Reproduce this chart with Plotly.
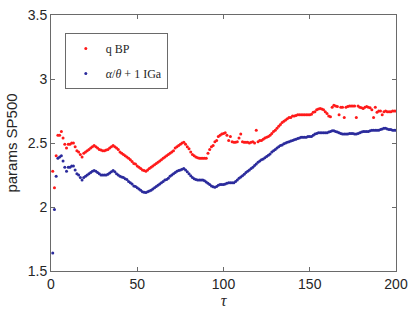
import plotly.graph_objects as go

tau = list(range(1, 201))

q_bp = [
    2.28, 2.15, 2.40, 2.56, 2.56, 2.59, 2.54, 2.49, 2.46, 2.49,
    2.49, 2.50, 2.50, 2.47, 2.44, 2.43, 2.41, 2.39, 2.42, 2.43,
    2.44, 2.45, 2.46, 2.47, 2.48, 2.47, 2.46, 2.45, 2.445, 2.44,
    2.44, 2.445, 2.45, 2.46, 2.47, 2.48, 2.47, 2.46, 2.45, 2.43,
    2.42, 2.41, 2.40, 2.39, 2.38, 2.37, 2.355, 2.34, 2.335, 2.32,
    2.31, 2.30, 2.29, 2.285, 2.28, 2.29, 2.30, 2.31, 2.32, 2.33,
    2.34, 2.35, 2.36, 2.37, 2.38, 2.39, 2.40, 2.41, 2.42, 2.43,
    2.44, 2.46, 2.47, 2.48, 2.49, 2.50, 2.505, 2.49, 2.47, 2.455,
    2.43, 2.41, 2.40, 2.39, 2.385, 2.38, 2.38, 2.38, 2.38, 2.38,
    2.42, 2.45, 2.47, 2.48, 2.51, 2.52, 2.55, 2.56, 2.57, 2.575,
    2.58, 2.56, 2.52, 2.55, 2.51, 2.505, 2.505, 2.51, 2.54, 2.57,
    2.51, 2.505, 2.505, 2.505, 2.50, 2.505, 2.51, 2.50, 2.60, 2.51,
    2.52, 2.52, 2.53, 2.54, 2.545, 2.55, 2.56, 2.575, 2.59, 2.60,
    2.615, 2.63, 2.645, 2.66, 2.67, 2.68, 2.69, 2.70, 2.70, 2.71,
    2.71, 2.715, 2.72, 2.72, 2.72, 2.72, 2.72, 2.72, 2.72, 2.72,
    2.725, 2.74, 2.745, 2.76, 2.765, 2.77, 2.765, 2.76, 2.745, 2.73,
    2.71, 2.705, 2.78, 2.795, 2.79, 2.785, 2.72, 2.78, 2.78, 2.70,
    2.78, 2.785, 2.79, 2.79, 2.79, 2.79, 2.70, 2.79, 2.78, 2.775,
    2.77, 2.78, 2.785, 2.78, 2.775, 2.76, 2.70, 2.78, 2.74, 2.75,
    2.75, 2.72, 2.745, 2.75, 2.745, 2.745, 2.745, 2.75, 2.75, 2.75,
]

iga = [
    1.64, 1.98, 2.24, 2.38, 2.39, 2.40, 2.36, 2.31, 2.28, 2.31,
    2.31, 2.32, 2.32, 2.29, 2.26, 2.25, 2.23, 2.21, 2.23, 2.24,
    2.25, 2.26, 2.27, 2.28, 2.285, 2.28, 2.27, 2.26, 2.25, 2.25,
    2.25, 2.25, 2.255, 2.265, 2.275, 2.285, 2.275, 2.26, 2.25, 2.24,
    2.235, 2.23, 2.22, 2.215, 2.20, 2.19, 2.18, 2.165, 2.16, 2.15,
    2.14, 2.13, 2.12, 2.115, 2.113, 2.12, 2.125, 2.13, 2.14, 2.15,
    2.16, 2.17, 2.18, 2.19, 2.20, 2.21, 2.215, 2.225, 2.24, 2.25,
    2.26, 2.27, 2.28, 2.285, 2.29, 2.295, 2.30, 2.29, 2.275, 2.26,
    2.245, 2.23, 2.22, 2.215, 2.21, 2.21, 2.21, 2.21, 2.205, 2.195,
    2.185, 2.175, 2.165, 2.158, 2.155, 2.16, 2.17, 2.175, 2.175, 2.175,
    2.18, 2.185, 2.19, 2.19, 2.19, 2.19, 2.20, 2.21, 2.225, 2.235,
    2.245, 2.255, 2.27, 2.28, 2.29, 2.30, 2.31, 2.325, 2.335, 2.35,
    2.36, 2.37, 2.375, 2.385, 2.395, 2.405, 2.415, 2.43, 2.44, 2.45,
    2.46, 2.47, 2.48, 2.485, 2.495, 2.50, 2.505, 2.51, 2.515, 2.52,
    2.525, 2.53, 2.535, 2.54, 2.545, 2.545, 2.545, 2.545, 2.55, 2.55,
    2.55, 2.56, 2.57, 2.575, 2.58, 2.58, 2.58, 2.58, 2.58, 2.58,
    2.585, 2.59, 2.595, 2.595, 2.59, 2.585, 2.58, 2.575, 2.57, 2.57,
    2.57, 2.57, 2.575, 2.575, 2.575, 2.57, 2.57, 2.575, 2.58, 2.585,
    2.59, 2.59, 2.59, 2.59, 2.595, 2.60, 2.60, 2.60, 2.60, 2.60,
    2.605, 2.61, 2.615, 2.615, 2.61, 2.605, 2.605, 2.60, 2.60, 2.60,
]

x_ticks = [0, 50, 100, 150, 200]
y_ticks = [1.5, 2, 2.5, 3, 3.5]
y_tick_labels = ["1.5", "2", "2.5", "3", "3.5"]

fig = go.Figure()
fig.add_trace(go.Scatter(
    x=tau, y=q_bp, mode="markers", name="q BP", legendgroup="a",
    marker=dict(color="#ff1a1a", size=3),
))
fig.add_trace(go.Scatter(
    x=tau, y=iga, mode="markers", name="<i>α</i>/<i>θ</i> + 1 IGa", legendgroup="b",
    marker=dict(color="#2b2b9c", size=3),
))

axis_common = dict(
    showgrid=False, zeroline=False, showline=True, linecolor="#6a6a6a",
    linewidth=1, mirror="ticks", ticks="inside", ticklen=4,
    tickcolor="#6a6a6a", ticklabeloverflow="allow",
    tickfont=dict(family="Liberation Sans, Arial", size=14, color="#262626"),
)

fig.update_xaxes(range=[-1e-6, 200 + 1e-6], tickvals=x_ticks, **axis_common,
                 title=dict(text="<i>τ</i>", font=dict(family="Liberation Serif, serif", size=16, color="#262626"), standoff=4))
fig.update_yaxes(range=[1.5 - 1e-6, 3.5 + 1e-6], tickvals=y_ticks, ticktext=y_tick_labels, **axis_common,
                 title=dict(text="params SP500", font=dict(family="Liberation Sans, Arial", size=15, color="#262626"), standoff=6))

fig.update_layout(
    width=415, height=317,
    margin=dict(l=51, r=14, t=7, b=46),
    plot_bgcolor="white", paper_bgcolor="white",
    showlegend=True,
    legend=dict(
        x=0.04, y=0.93, xanchor="left", yanchor="top",
        bgcolor="white", bordercolor="#6a6a6a", borderwidth=1,
        font=dict(family="Liberation Serif, serif", size=12, color="#262626"),
        itemsizing="trace", tracegroupgap=6, itemwidth=30,
    ),
)

fig.write_html("out.html", config={"displayModeBar": False},
               post_script="document.body.style.margin='0px';document.body.style.padding='0px';")
